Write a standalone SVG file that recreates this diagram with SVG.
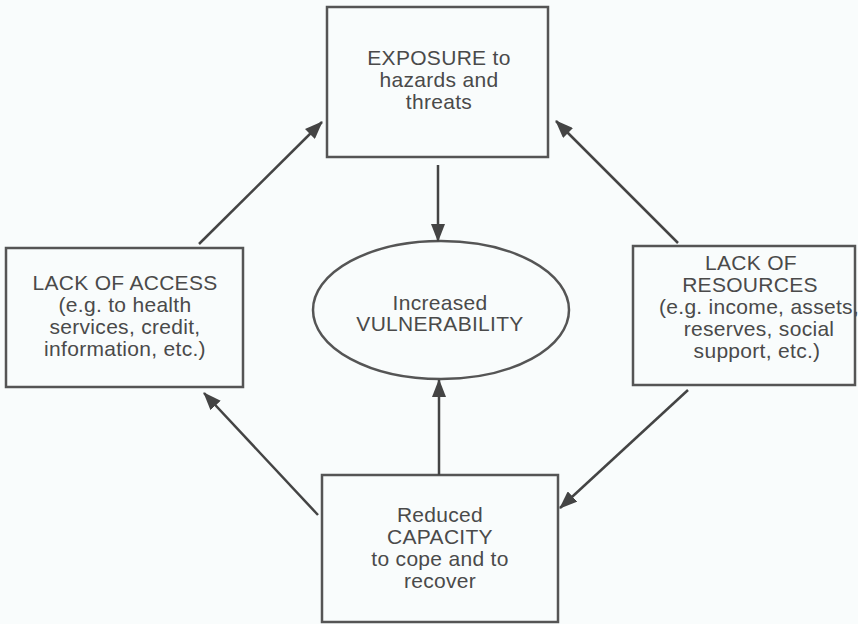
<svg xmlns="http://www.w3.org/2000/svg" width="858" height="624" viewBox="0 0 858 624">
<style>
.box{fill:none;stroke:#555;stroke-width:2.5}
.t{font-family:"Liberation Sans",Arial,sans-serif;font-size:21px;fill:#4a4a4a;text-anchor:middle;letter-spacing:0.3px}
.c{stroke:#444;stroke-width:2.5;fill:none;marker-end:url(#ah)}
</style>
<defs>
<marker id="ah" markerUnits="userSpaceOnUse" markerWidth="18" markerHeight="14" refX="17" refY="7" orient="auto">
<path d="M0,0 L18,7 L0,14 Z" fill="#444"/>
</marker>
</defs>
<rect width="858" height="624" fill="#f9fcfc"/>
<g id="exposure">
<rect class="box" x="327" y="7" width="221" height="150"/>
<text class="t" x="439" y="65">EXPOSURE to</text>
<text class="t" x="439" y="87">hazards and</text>
<text class="t" x="439" y="109">threats</text>
</g>
<g id="access">
<rect class="box" x="6" y="248" width="237" height="139"/>
<text class="t" x="125" y="290">LACK OF ACCESS</text>
<text class="t" x="125" y="312">(e.g. to health</text>
<text class="t" x="125" y="334">services, credit,</text>
<text class="t" x="125" y="356">information, etc.)</text>
</g>
<g id="resources">
<rect class="box" x="633" y="246" width="222" height="139"/>
<text class="t" x="751" y="270">LACK OF</text>
<text class="t" x="750" y="292">RESOURCES</text>
<text class="t" x="759" y="314">(e.g. income, assets,</text>
<text class="t" x="759" y="336">reserves, social</text>
<text class="t" x="757" y="358">support, etc.)</text>
</g>
<g id="capacity">
<rect class="box" x="322" y="475" width="236" height="147"/>
<text class="t" x="440" y="522">Reduced</text>
<text class="t" x="440" y="544">CAPACITY</text>
<text class="t" x="440" y="566">to cope and to</text>
<text class="t" x="440" y="588">recover</text>
</g>
<g id="vulnerability">
<ellipse class="box" cx="441" cy="310" rx="128" ry="69"/>
<text class="t" x="440" y="310">Increased</text>
<text class="t" x="440" y="331">VULNERABILITY</text>
</g>
<g id="connectors">
<line class="c" x1="438" y1="165" x2="438" y2="241"/>
<line class="c" x1="439" y1="475" x2="439" y2="380"/>
<line class="c" x1="199" y1="244" x2="322" y2="122"/>
<line class="c" x1="678" y1="243" x2="556" y2="121"/>
<line class="c" x1="318" y1="515" x2="204" y2="393"/>
<line class="c" x1="688" y1="390" x2="560" y2="508"/>
</g>
</svg>
